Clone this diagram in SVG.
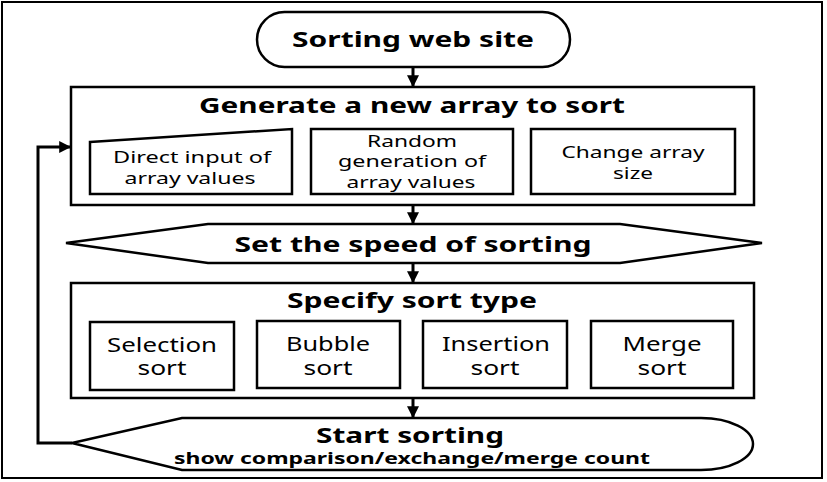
<svg xmlns="http://www.w3.org/2000/svg" width="827" height="482" viewBox="0 0 827 482">
<style>
.shape{fill:#fff;stroke:#000;stroke-width:2.5}
.frame{fill:#fff;stroke:#000;stroke-width:2}
.title{font-family:"Noto Sans","Open Sans",sans-serif;font-weight:bold;font-size:22px;text-anchor:middle;fill:#000}
.lbl{font-family:"Noto Sans","Open Sans",sans-serif;font-size:17px;text-anchor:middle;fill:#000}
.big{font-size:19px}
.sub{font-family:"Noto Sans","Open Sans",sans-serif;font-weight:bold;font-size:16px;text-anchor:middle;fill:#000}
.conn{fill:none;stroke:#000;stroke-width:3}
</style>
<defs>
<marker id="arr" viewBox="0 0 10 10" refX="9" refY="5" markerWidth="4" markerHeight="4" orient="auto" markerUnits="strokeWidth">
<path d="M0,0 L10,5 L0,10 z" fill="#000"/>
</marker>
</defs>
<rect class="frame" x="2" y="2" width="820" height="476"/>
<g id="start">
<rect class="shape" x="257" y="12" width="313" height="55" rx="27.5" ry="27.5"/>
<text class="title" x="413" y="47" textLength="242" lengthAdjust="spacingAndGlyphs">Sorting web site</text>
</g>
<g id="generate">
<rect class="shape" x="71" y="87" width="683" height="118"/>
<text class="title" x="412" y="113" textLength="426" lengthAdjust="spacingAndGlyphs">Generate a new array to sort</text>
</g>
<g id="direct">
<path class="shape" d="M90,142 L292,129 L292,194 L90,194 Z"/>
<text class="lbl" x="192" y="163" textLength="158" lengthAdjust="spacingAndGlyphs">Direct input of</text>
<text class="lbl" x="190" y="184" textLength="131" lengthAdjust="spacingAndGlyphs">array values</text>
</g>
<g id="random">
<rect class="shape" x="311" y="129" width="202" height="65"/>
<text class="lbl" x="412" y="147" textLength="90" lengthAdjust="spacingAndGlyphs">Random</text>
<text class="lbl" x="412" y="167" textLength="148" lengthAdjust="spacingAndGlyphs">generation of</text>
<text class="lbl" x="411" y="188" textLength="129" lengthAdjust="spacingAndGlyphs">array values</text>
</g>
<g id="size">
<rect class="shape" x="531" y="129" width="204" height="65"/>
<text class="lbl" x="633" y="158" textLength="143" lengthAdjust="spacingAndGlyphs">Change array</text>
<text class="lbl" x="633" y="179" textLength="40" lengthAdjust="spacingAndGlyphs">size</text>
</g>
<g id="speed">
<path class="shape" d="M66,243 L208,224 L620,224 L762,243 L620,263 L208,263 Z"/>
<text class="title" x="413" y="252" textLength="357" lengthAdjust="spacingAndGlyphs">Set the speed of sorting</text>
</g>
<g id="sorttype">
<rect class="shape" x="71" y="283" width="683" height="115"/>
<text class="title" x="412" y="308" textLength="250" lengthAdjust="spacingAndGlyphs">Specify sort type</text>
</g>
<g id="selection">
<rect class="shape" x="90" y="322" width="144" height="68"/>
<text class="lbl big" x="162" y="352" textLength="110" lengthAdjust="spacingAndGlyphs">Selection</text>
<text class="lbl big" x="162" y="375" textLength="49" lengthAdjust="spacingAndGlyphs">sort</text>
</g>
<g id="bubble">
<rect class="shape" x="257" y="321" width="143" height="67"/>
<text class="lbl big" x="328" y="351" textLength="84" lengthAdjust="spacingAndGlyphs">Bubble</text>
<text class="lbl big" x="328" y="375" textLength="49" lengthAdjust="spacingAndGlyphs">sort</text>
</g>
<g id="insertion">
<rect class="shape" x="423" y="321" width="144" height="67"/>
<text class="lbl big" x="496" y="351" textLength="108" lengthAdjust="spacingAndGlyphs">Insertion</text>
<text class="lbl big" x="495" y="375" textLength="49" lengthAdjust="spacingAndGlyphs">sort</text>
</g>
<g id="merge">
<rect class="shape" x="591" y="321" width="142" height="67"/>
<text class="lbl big" x="662" y="351" textLength="79" lengthAdjust="spacingAndGlyphs">Merge</text>
<text class="lbl big" x="662" y="375" textLength="49" lengthAdjust="spacingAndGlyphs">sort</text>
</g>
<g id="startsorting">
<path class="shape" d="M72,443 L182,418 L701,418 A52,26 0 0 1 701,470 L182,470 Z"/>
<text class="title" x="410" y="443" textLength="188" lengthAdjust="spacingAndGlyphs">Start sorting</text>
<text class="sub" x="412" y="464" textLength="476" lengthAdjust="spacingAndGlyphs">show comparison/exchange/merge count</text>
</g>
<g id="connectors">
<line class="conn" x1="413" y1="67" x2="413" y2="86" marker-end="url(#arr)"/>
<line class="conn" x1="413" y1="205" x2="413" y2="223" marker-end="url(#arr)"/>
<line class="conn" x1="413" y1="263" x2="413" y2="282" marker-end="url(#arr)"/>
<line class="conn" x1="413" y1="398" x2="413" y2="417" marker-end="url(#arr)"/>
<path class="conn" d="M72,443 L38,443 L38,147 L70,147" marker-end="url(#arr)"/>
</g>
</svg>
